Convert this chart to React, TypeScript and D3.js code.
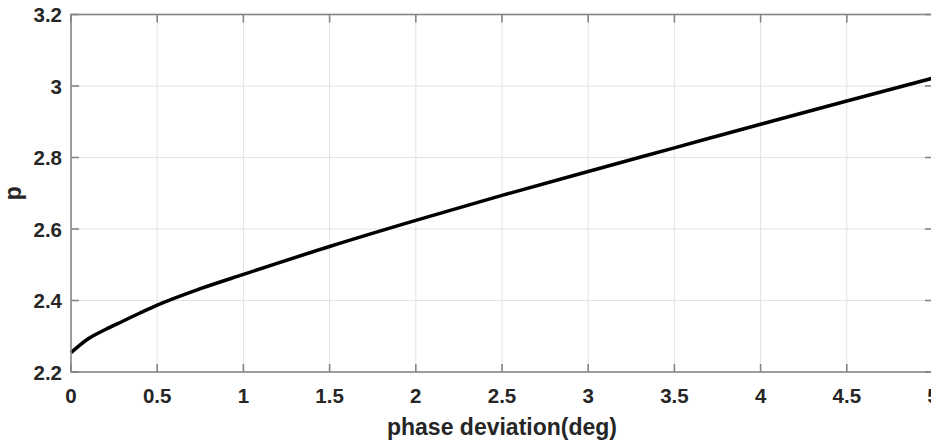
import React, { useEffect, useRef } from 'react';
import * as d3 from 'd3';

// phase deviation (deg) vs p
const phaseDeg = [0, 0.1, 0.2, 0.3, 0.4, 0.5, 0.75, 1, 1.5, 2, 2.5, 3, 3.5, 4, 4.5, 5];
const pValues = [2.254, 2.293, 2.319, 2.342, 2.365, 2.387, 2.433, 2.473, 2.551, 2.624, 2.694, 2.761, 2.827, 2.893, 2.958, 3.022];
const xTicks = [0, 0.5, 1, 1.5, 2, 2.5, 3, 3.5, 4, 4.5, 5];
const yTicks = [2.2, 2.4, 2.6, 2.8, 3, 3.2];

const W = 931;
const H = 442;

const App = () => {
  const svgRef = useRef<SVGSVGElement>(null);

  useEffect(() => {
    const svg = d3.select(svgRef.current);
    svg.selectAll('*').remove();

    const margin = { top: 14.5, right: -2, bottom: 70, left: 71 };
    const x = d3.scaleLinear().domain([0, 5]).range([margin.left, W - margin.right]);
    const y = d3.scaleLinear().domain([2.2, 3.2]).range([H - margin.bottom, margin.top]);

    const font = 'Arial, "Liberation Sans", Helvetica, sans-serif';
    const axisColor = '#858585';
    const textColor = '#262626';
    const tickFont = 20.5;

    svg.append('rect').attr('width', W).attr('height', H).attr('fill', '#fff');

    // grid
    const g = svg.append('g');
    g.selectAll('.vgrid')
      .data(xTicks.slice(1, -1))
      .enter()
      .append('line')
      .attr('x1', d => x(d)).attr('x2', d => x(d))
      .attr('y1', y(2.2)).attr('y2', y(3.2))
      .attr('stroke', '#e3e3e3').attr('stroke-width', 1);
    g.selectAll('.hgrid')
      .data(yTicks.slice(1, -1))
      .enter()
      .append('line')
      .attr('x1', x(0)).attr('x2', x(5))
      .attr('y1', d => y(d)).attr('y2', d => y(d))
      .attr('stroke', '#e3e3e3').attr('stroke-width', 1);

    // curve
    const line = d3.line<number>()
      .x((_, i) => x(phaseDeg[i]))
      .y(d => y(d))
      .curve(d3.curveMonotoneX);
    svg.append('path')
      .datum(pValues)
      .attr('d', line)
      .attr('fill', 'none')
      .attr('stroke', '#000')
      .attr('stroke-width', 3.5);

    // axes box
    svg.append('rect')
      .attr('x', x(0)).attr('y', y(3.2))
      .attr('width', x(5) - x(0)).attr('height', y(2.2) - y(3.2))
      .attr('fill', 'none').attr('stroke', axisColor).attr('stroke-width', 1.6);

    // ticks (inward)
    const tl = 8;
    xTicks.forEach(t => {
      svg.append('line').attr('x1', x(t)).attr('x2', x(t))
        .attr('y1', y(2.2)).attr('y2', y(2.2) - tl)
        .attr('stroke', axisColor).attr('stroke-width', 1.6);
      svg.append('line').attr('x1', x(t)).attr('x2', x(t))
        .attr('y1', y(3.2)).attr('y2', y(3.2) + tl)
        .attr('stroke', axisColor).attr('stroke-width', 1.6);
      svg.append('text')
        .attr('x', x(t)).attr('y', y(2.2) + 31)
        .attr('text-anchor', 'middle')
        .attr('font-family', font).attr('font-weight', 'bold').attr('font-size', tickFont)
        .attr('fill', textColor)
        .text(String(t));
    });
    yTicks.forEach(t => {
      svg.append('line').attr('x1', x(0)).attr('x2', x(0) + tl)
        .attr('y1', y(t)).attr('y2', y(t))
        .attr('stroke', axisColor).attr('stroke-width', 1.6);
      svg.append('line').attr('x1', x(5)).attr('x2', x(5) - tl)
        .attr('y1', y(t)).attr('y2', y(t))
        .attr('stroke', axisColor).attr('stroke-width', 1.6);
      svg.append('text')
        .attr('x', x(0) - 9).attr('y', y(t) + 7.5)
        .attr('text-anchor', 'end')
        .attr('font-family', font).attr('font-weight', 'bold').attr('font-size', tickFont)
        .attr('fill', textColor)
        .text(String(t));
    });

    // axis labels
    svg.append('text')
      .attr('x', (x(0) + x(5)) / 2).attr('y', 435)
      .attr('text-anchor', 'middle')
      .attr('font-family', font).attr('font-weight', 'bold').attr('font-size', 23)
      .attr('fill', textColor)
      .text('phase deviation(deg)');
    svg.append('text')
      .attr('transform', `translate(21, ${(y(2.2) + y(3.2)) / 2}) rotate(-90)`)
      .attr('text-anchor', 'middle')
      .attr('font-family', font).attr('font-weight', 'bold').attr('font-size', 23)
      .attr('fill', textColor)
      .text('p');
  }, []);

  return (
    <svg
      ref={svgRef}
      width={W}
      height={H}
      style={{ position: 'fixed', left: 0, top: 0, display: 'block' }}
    />
  );
};

export default App;
